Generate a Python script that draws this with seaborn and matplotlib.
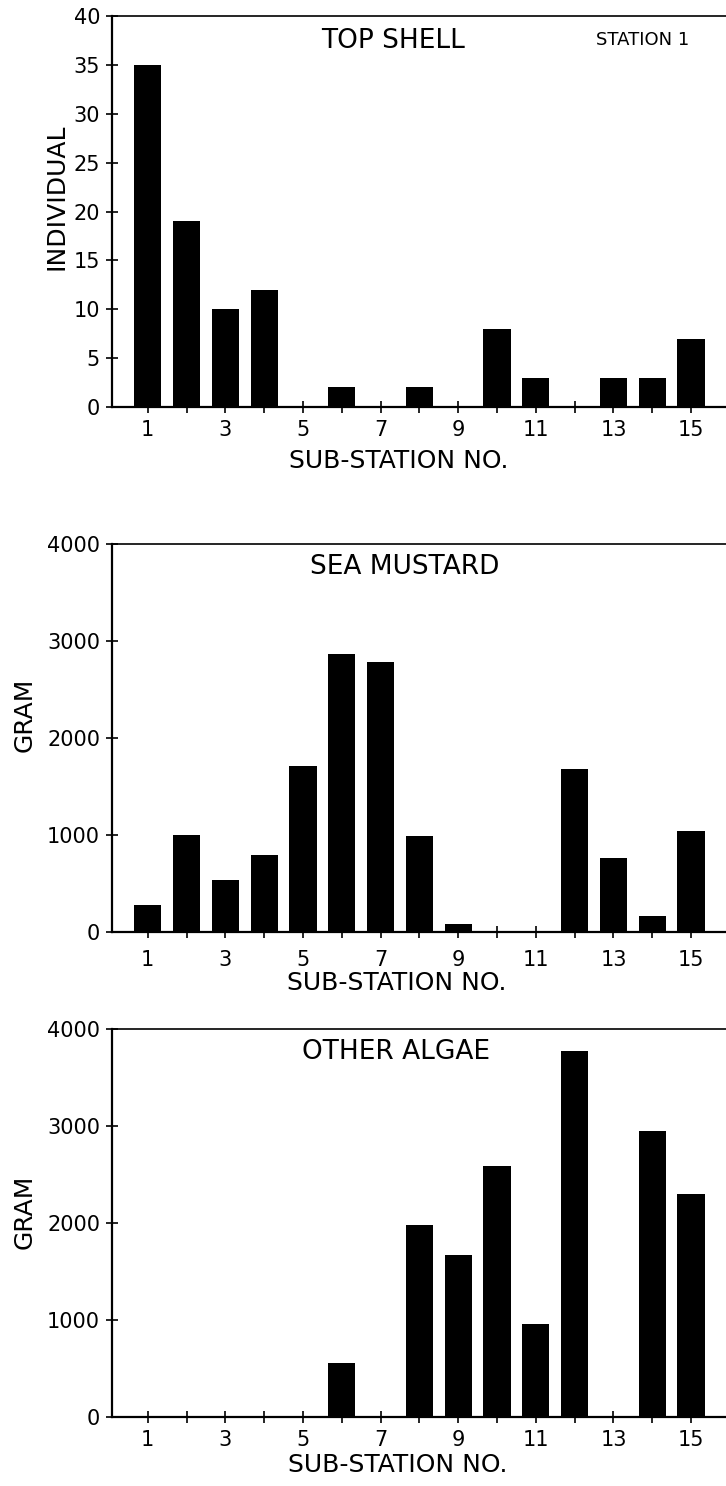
import matplotlib
matplotlib.use("Agg")
import matplotlib.pyplot as plt
import seaborn as sns
import pandas as pd

sns.set_theme(style="white")
plt.rcParams['font.family'] = ['DejaVu Sans']

stations = list(range(1, 16))
top_shell = [35, 19, 10, 12, 0, 2, 0, 2, 0, 8, 3, 0, 3, 3, 7]
sea_mustard = [275, 1005, 537, 790, 1711, 2864, 2785, 990, 83, 0, 0, 1683, 768, 162, 1046]
other_algae = [0, 0, 0, 0, 0, 560, 0, 1981, 1672, 2592, 955, 3777, 0, 2949, 2300]

titles = ["TOP SHELL", "SEA MUSTARD", "OTHER ALGAE"]
ylabels = ["INDIVIDUAL", "GRAM", "GRAM"]
xlabel = "SUB-STATION NO."
yticks_top = [0, 5, 10, 15, 20, 25, 30, 35, 40]
yticks_gram = [0, 1000, 2000, 3000, 4000]
xtick_labels = [str(s) if s % 2 == 1 else "" for s in stations]

W, H = 726, 1486
fig = plt.figure(figsize=(W / 100, H / 100), dpi=100)

# (left px, top px, bottom px)
boxes = [(112, 16, 407), (112, 544, 932), (112, 1029, 1417)]
series = [top_shell, sea_mustard, other_algae]
ylims = [(0, 40), (0, 4000), (0, 4000)]
ytick_sets = [yticks_top, yticks_gram, yticks_gram]
title_pos = [(0.458, 0.936), (0.477, 0.941), (0.463, 0.941)]
ylabel_pos = [(-0.0912, 0.537), (-0.143, 0.559), (-0.143, 0.528)]
xlabel_pos = [(0.467, -0.138), (0.464, -0.131), (0.465, -0.124)]
xpads = [5.7, 8.6, 5.0]

for i in range(3):
    lpx, tpx, bpx = boxes[i]
    ax = fig.add_axes([lpx / W, 1 - bpx / H, (W - lpx) / W, (bpx - tpx) / H])
    df = pd.DataFrame({"station": stations, "value": series[i]})
    sns.barplot(data=df, x="station", y="value", native_scale=True, width=0.7,
                color="black", edgecolor="black", linewidth=0, saturation=1,
                ax=ax)
    ax.set_xlim(0.08, 15.9)
    ax.set_ylim(*ylims[i])
    ax.set_xticks(stations)
    ax.set_xticklabels(xtick_labels)
    ax.set_yticks(ytick_sets[i])
    ax.set_yticklabels([str(v) for v in ytick_sets[i]])
    ax.tick_params(axis="both", direction="inout", length=8, width=1.2,
                   color="black", labelcolor="black", labelsize=15)
    ax.tick_params(axis="y", pad=4.6, left=True)
    ax.tick_params(axis="x", pad=xpads[i], bottom=True)
    for side in ["left", "bottom", "top"]:
        ax.spines[side].set_visible(True)
        ax.spines[side].set_color("black")
    ax.spines["left"].set_linewidth(1.6)
    ax.spines["bottom"].set_linewidth(1.6)
    ax.spines["top"].set_linewidth(1.2)
    ax.spines["right"].set_visible(False)
    ax.grid(False)

    ax.set_ylabel(ylabels[i], fontsize=18, color="black")
    ax.yaxis.label.set_verticalalignment("center")
    ax.yaxis.set_label_coords(*ylabel_pos[i])
    ax.set_xlabel(xlabel, fontsize=18, color="black")
    ax.xaxis.label.set_verticalalignment("center")
    ax.xaxis.set_label_coords(*xlabel_pos[i])

    ax.text(title_pos[i][0], title_pos[i][1], titles[i], transform=ax.transAxes,
            ha="center", va="center", fontsize=19, color="black")
    if i == 0:
        ax.text(0.865, 0.938, "STATION 1", transform=ax.transAxes,
                ha="center", va="center", fontsize=13, color="black")

fig.savefig("out.png", dpi=100, facecolor="white")
